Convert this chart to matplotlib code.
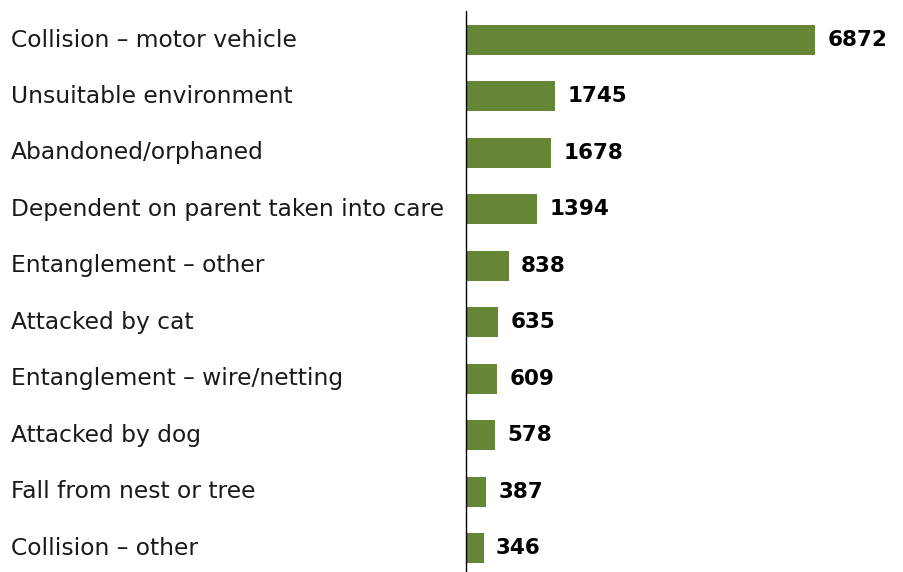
import matplotlib
matplotlib.use("Agg")
import matplotlib.pyplot as plt
import matplotlib.transforms as mtrans

categories = [
    "Collision – motor vehicle",
    "Unsuitable environment",
    "Abandoned/orphaned",
    "Dependent on parent taken into care",
    "Entanglement – other",
    "Attacked by cat",
    "Entanglement – wire/netting",
    "Attacked by dog",
    "Fall from nest or tree",
    "Collision – other",
]
counts = [6872, 1745, 1678, 1394, 838, 635, 609, 578, 387, 346]

BAR_COLOR = "#658735"
plt.rcParams['font.family'] = ['DejaVu Sans']

fig = plt.figure(figsize=(9.04, 5.72), dpi=100)
ax = fig.add_axes([466 / 904, 0, (904 - 466) / 904, (572 - 11) / 572])

ypos = list(range(len(categories)))
ax.barh(ypos, counts, height=0.53, color=BAR_COLOR)
ax.set_xlim(0, 6872 * (904 - 466) / 349)
ax.set_ylim(len(categories) - 1 + 0.425, -0.514)

for s in ["top", "right", "bottom"]:
    ax.spines[s].set_visible(False)
ax.spines["left"].set_linewidth(1.0)
ax.spines["left"].set_color("black")
ax.set_xticks([])
ax.set_yticks([])

trans = mtrans.blended_transform_factory(fig.transFigure, ax.transData)
for y, name in zip(ypos, categories):
    ax.text(11 / 904, y, name, transform=trans, ha="left", va="center",
            fontsize=16.8, color="#1a1a1a")

for y, v in zip(ypos, counts):
    ax.annotate(str(v), (v, y), xytext=(9, 0), textcoords="offset points",
                ha="left", va="center", fontsize=15.5, fontweight="bold",
                color="black")

fig.savefig("out.png", dpi=100)
